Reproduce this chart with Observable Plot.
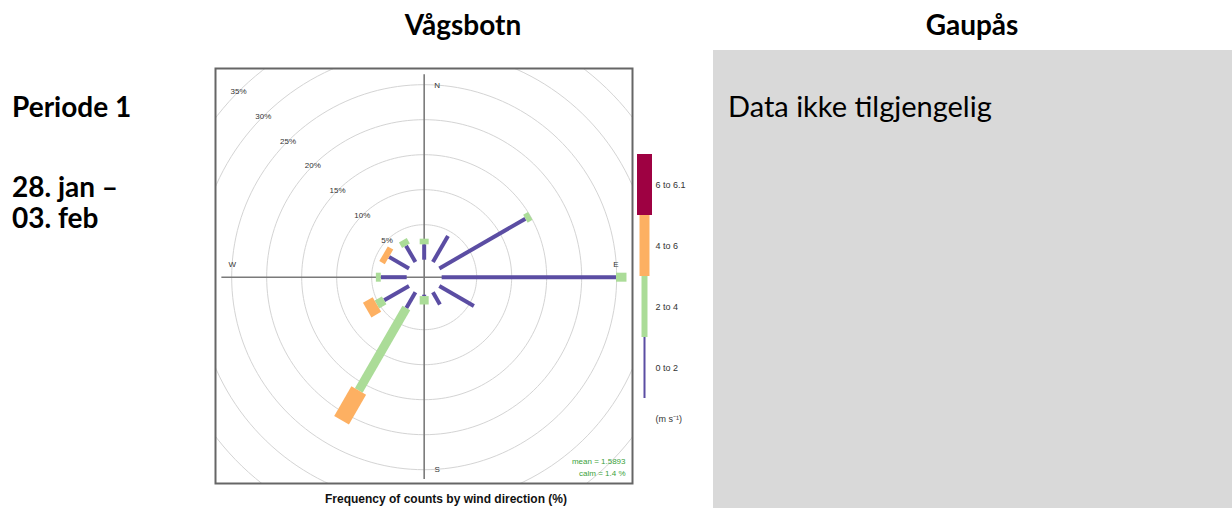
<!DOCTYPE html>
<html><head><meta charset="utf-8">
<script src="https://cdn.jsdelivr.net/npm/d3@7"></script>
<script src="https://cdn.jsdelivr.net/npm/@observablehq/plot@0.6"></script>
<style>
body{margin:0;background:#fff;}
#page{position:relative;width:1232px;height:508px;overflow:hidden;font-family:Lato,"Open Sans",sans-serif;color:#000;background:#fff;}
.abs{position:absolute;white-space:nowrap;line-height:1;}
#rose{position:absolute;left:210.5px;top:64px;}
#legend{position:absolute;left:636px;top:145px;}
#rose svg,#legend svg{background:transparent;}
</style></head><body>
<div id="page">
  <div class="abs" style="left:214px;width:498px;text-align:center;top:10px;font-size:28px;font-weight:700">Vågsbotn</div>
  <div class="abs" style="left:712px;width:520px;text-align:center;top:10px;font-size:28px;font-weight:700">Gaupås</div>
  <div class="abs" style="left:12px;top:92px;font-size:28px;font-weight:700">Periode 1</div>
  <div class="abs" style="left:12px;top:172px;font-size:28px;font-weight:700">28. jan –</div>
  <div class="abs" style="left:12px;top:203px;font-size:28px;font-weight:700">03. feb</div>
  <div style="position:absolute;left:712.5px;top:50px;width:520px;height:458px;background:#d9d9d9"></div>
  <div class="abs" style="left:728px;top:91px;font-size:29px;font-weight:400">Data ikke tilgjengelig</div>
  <div id="rose"></div>
  <div id="legend"></div>
  <div class="abs" style="left:206px;top:493px;width:480px;text-align:center;font-family:'Liberation Sans',Arial,sans-serif;font-size:12px;line-height:12px;font-weight:700;color:#111">Frequency of counts by wind direction (%)</div>
</div>
<script>
// ---- data ----
const directions = [0, 30, 60, 90, 120, 150, 180, 210, 240, 270, 300, 330];
const speedBins = ["0 to 2", "2 to 4", "4 to 6", "6 to 6.1"];
const freq0to2 = [2.2, 4.3, 14.2, 24.9, 5.7, 2.0, 0.2, 2.6, 4.1, 3.7, 3.3, 2.7];
const freq2to4 = [0.8, 0.0, 0.8, 1.5, 0.0, 0.0, 1.2, 13.6, 1.2, 0.7, 0.0, 0.9];
const freq4to6 = [0.0, 0.0, 0.0, 0.0, 0.0, 0.0, 0.0, 4.9, 1.6, 0.0, 0.9, 0.0];
const freq6to61 = [0, 0, 0, 0, 0, 0, 0, 0, 0, 0, 0, 0];
const ringPercents = [5, 10, 15, 20, 25, 30, 35];
const compassLabels = ["N", "E", "S", "W"];
const compassAngles = [0, 90, 180, 270];
const meanSpeed = "1.5893";
const calmPercent = "1.4";
const unitLabel = "(m s\u207B\u00B9)";

// ---- styles ----
const binColors = ["#5b4da3", "#abdc98", "#fdb062", "#9e0142"];
const roseWidths = [4, 9, 17, 25];
const legendWidths = [2, 6, 10, 15];
const hole = 2.5;          // inner offset, in % units
const axisHalf = 28.9;     // half-length of the compass cross
const labelRadius = 27.4;  // radius of compass letters

const series = [freq0to2, freq2to4, freq4to6, freq6to61];
const rad = a => a * Math.PI / 180;
const segs = [];
directions.forEach((dir, i) => {
  let cum = 0;
  series.forEach((s, b) => {
    const v = s[i];
    if (v > 0) segs.push({dir, bin: speedBins[b], b, p1: cum, p2: cum + v});
    cum += v;
  });
});
const px = (dir, p) => (hole + p) * Math.sin(rad(dir));
const py = (dir, p) => (hole + p) * Math.cos(rad(dir));

const rings = [];
ringPercents.forEach(p => {
  for (let a = 0; a <= 360; a += 2) rings.push({p, a});
});

const colorScale = {domain: speedBins, range: binColors};

const rose = Plot.plot({
  width: 425, height: 423, margin: 4,
  x: {domain: [-29.81, 29.76], axis: null},
  y: {domain: [-29.47, 29.81], axis: null},
  color: colorScale,
  style: {fontFamily: "'Liberation Sans', Arial, sans-serif", background: "transparent"},
  marks: [
    Plot.line(rings, {x: d => px(d.a, d.p), y: d => py(d.a, d.p), z: "p", stroke: "#d4d4d4", strokeWidth: 1, clip: "frame"}),
    Plot.ruleX([0], {y1: -axisHalf, y2: axisHalf, stroke: "#7a7a7a", strokeWidth: 1.6}),
    Plot.ruleY([0], {x1: -axisHalf, x2: axisHalf, stroke: "#7a7a7a", strokeWidth: 1.6}),
    ...speedBins.map((bin, b) => Plot.link(segs.filter(d => d.b === b), {
      x1: d => px(d.dir, d.p1), y1: d => py(d.dir, d.p1),
      x2: d => px(d.dir, d.p2), y2: d => py(d.dir, d.p2),
      stroke: "bin", strokeWidth: roseWidths[b], strokeLinecap: "butt"
    })),
    Plot.text(ringPercents, {x: p => px(315, p), y: p => py(315, p), text: p => p + "%", fontSize: 8, fill: "#333"}),
    Plot.text(compassLabels.filter((l, i) => compassAngles[i] % 180 === 0), {
      x: l => px(compassAngles[compassLabels.indexOf(l)], labelRadius - hole),
      y: l => py(compassAngles[compassLabels.indexOf(l)], labelRadius - hole),
      text: l => l, dx: 13, fontSize: 8, fill: "#333"}),
    Plot.text(compassLabels.filter((l, i) => compassAngles[i] % 180 !== 0), {
      x: l => px(compassAngles[compassLabels.indexOf(l)], labelRadius - hole),
      y: l => py(compassAngles[compassLabels.indexOf(l)], labelRadius - hole),
      text: l => l, dy: -13, fontSize: 8, fill: "#333"}),
    Plot.text([`mean = ${meanSpeed}`], {frameAnchor: "bottom-right", dx: -7, dy: -20, fontSize: 8, fill: "#3a9f3a"}),
    Plot.text([`calm = ${calmPercent} %`], {frameAnchor: "bottom-right", dx: -7, dy: -8, fontSize: 8, fill: "#3a9f3a"}),
    Plot.frame({stroke: "#666", strokeWidth: 2})
  ]
});
document.getElementById("rose").appendChild(rose);

const legend = Plot.plot({
  width: 70, height: 290, marginTop: 7.5, marginBottom: 35, marginLeft: 8, marginRight: 0,
  x: {domain: [0, 1], axis: null},
  y: {type: "band", domain: speedBins.slice().reverse(), padding: 0, axis: null},
  color: colorScale,
  style: {fontFamily: "'Liberation Sans', Arial, sans-serif", background: "transparent"},
  marks: [
    ...speedBins.map((bin, b) => Plot.tickX([bin], {x: () => 0, y: d => d, stroke: d => d, strokeWidth: legendWidths[b]})),
    Plot.text(speedBins, {x: () => 0, y: d => d, text: d => d, dx: 11, textAnchor: "start", fontSize: 9, fill: "#333"}),
    Plot.text([unitLabel], {frameAnchor: "bottom-left", dx: 11, dy: 21, textAnchor: "start", fontSize: 9, fill: "#333"})
  ]
});
document.getElementById("legend").appendChild(legend);
</script>
</body></html>
